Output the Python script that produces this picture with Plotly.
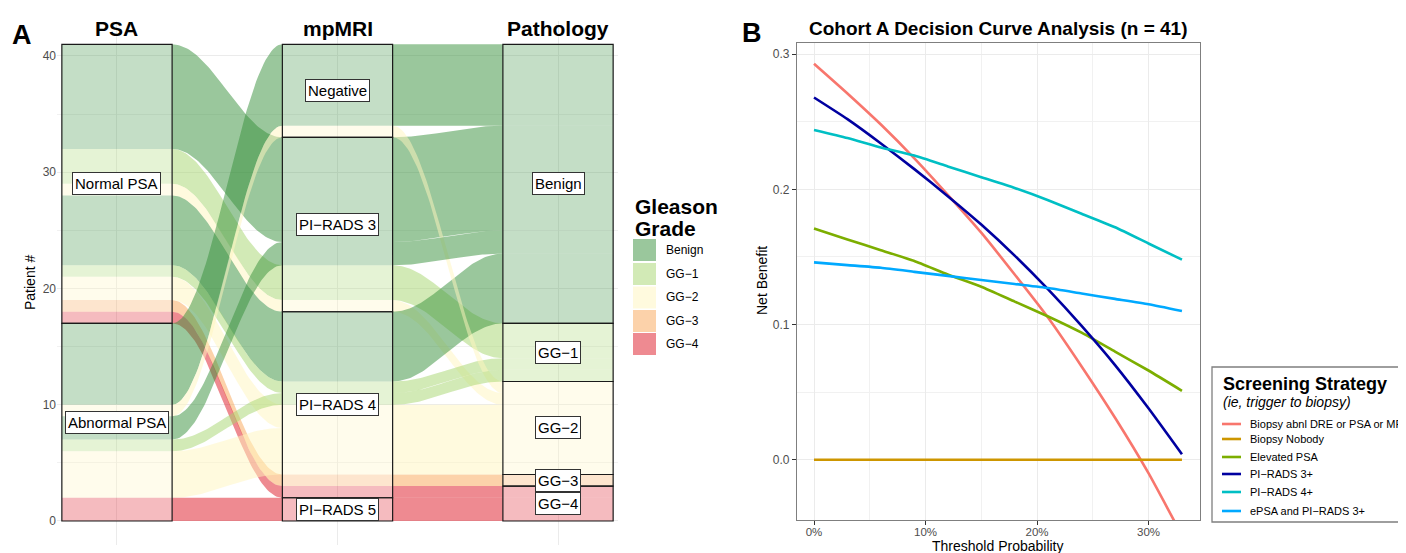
import numpy as np
import plotly.graph_objects as go

# The page body has an 8px default margin, so the figure is sized to fill the rest of the window.
OFF = 8
W, H = 1406 - OFF, 553 - OFF
FONT = "Liberation Sans, Arial, Helvetica, sans-serif"

# ---------------- Panel A data (alluvial diagram) ----------------
axis_names = ["PSA", "mpMRI", "Pathology"]
psa_levels = ["Normal PSA", "Abnormal PSA"]
mri_levels = ["Negative", "PI−RADS 3", "PI−RADS 4", "PI−RADS 5"]
path_levels = ["Benign", "GG−1", "GG−2", "GG−3", "GG−4"]

flow_psa = ["Normal PSA"] * 8 + ["Abnormal PSA"] * 6
flow_mri = ["PI−RADS 3", "PI−RADS 3", "PI−RADS 3", "PI−RADS 4", "PI−RADS 4",
            "PI−RADS 4", "PI−RADS 4", "PI−RADS 4", "Negative", "Negative",
            "PI−RADS 3", "PI−RADS 4", "PI−RADS 4", "PI−RADS 5"]
flow_path = ["Benign", "GG−1", "GG−2", "Benign", "GG−1", "GG−2", "GG−3", "GG−4",
             "Benign", "GG−2", "Benign", "GG−1", "GG−2", "GG−4"]
flow_n = [9, 3, 1, 6, 1, 2, 1, 1, 7, 1, 2, 1, 4, 2]

legend_a_title = ["Gleason", "Grade"]

# ---------------- Panel B data (decision curves) ----------------
threshold = [0.00, 0.03, 0.06, 0.09, 0.12, 0.15, 0.18, 0.21, 0.24, 0.27, 0.30, 0.33]
nb_all = [0.293, 0.271, 0.248, 0.223, 0.196, 0.168, 0.137, 0.105, 0.069, 0.031, -0.010, -0.056]
nb_none = [0.0] * 12
nb_psa = [0.171, 0.163, 0.155, 0.147, 0.137, 0.128, 0.117, 0.106, 0.094, 0.080, 0.066, 0.051]
nb_pr3 = [0.268, 0.252, 0.234, 0.215, 0.195, 0.174, 0.151, 0.126, 0.099, 0.070, 0.038, 0.004]
nb_pr4 = [0.244, 0.238, 0.231, 0.225, 0.217, 0.209, 0.201, 0.192, 0.182, 0.172, 0.160, 0.148]
nb_epsa_pr3 = [0.146, 0.144, 0.142, 0.139, 0.136, 0.133, 0.130, 0.127, 0.123, 0.119, 0.115, 0.110]
strategy_names = ["Biopsy abnl DRE or PSA or MRI", "Biopsy Nobody", "Elevated PSA",
                  "PI−RADS 3+", "PI−RADS 4+", "ePSA and PI−RADS 3+"]
title_b = "Cohort A Decision Curve Analysis (n = 41)"

# ---------------- styles ----------------
grade_rgb = {"Benign": (53, 143, 57), "GG−1": (165, 213, 109), "GG−2": (255, 245, 189),
             "GG−3": (249, 165, 85), "GG−4": (221, 21, 35)}
strategy_colors = ["#F8766D", "#CD9600", "#7CAE00", "#0000A0", "#00BFC4", "#00A9FF"]


def rgba(c, a):
    return "rgba(%d,%d,%d,%.3f)" % (c[0], c[1], c[2], a)


def blend(c, a):
    return "rgb(%d,%d,%d)" % tuple(round(255 - (255 - v) * a) for v in c)


def pxx(x):
    return (x - OFF) / W


def pxy(y):
    return 1 - (y - OFF) / H


def txt(x, y, text, size, xanchor="center", yanchor="middle", angle=0, color="black"):
    return dict(x=pxx(x), y=pxy(y), xref="paper", yref="paper", text=text, showarrow=False,
                xanchor=xanchor, yanchor=yanchor, textangle=angle,
                font=dict(size=size, color=color, family=FONT))


fig = go.Figure()

# ---------------- Panel A: compute lode positions ----------------
N = len(flow_n)
total = sum(flow_n)
idx_psa = [psa_levels.index(v) for v in flow_psa]
idx_mri = [mri_levels.index(v) for v in flow_mri]
idx_path = [path_levels.index(v) for v in flow_path]
sort_keys = [
    lambda i: (idx_psa[i], idx_mri[i], idx_path[i]),
    lambda i: (idx_mri[i], idx_path[i], idx_psa[i]),
    lambda i: (idx_path[i], idx_mri[i], idx_psa[i]),
]
tops = np.zeros((3, N))
bots = np.zeros((3, N))
for a in range(3):
    y = total
    for i in sorted(range(N), key=sort_keys[a]):
        tops[a, i] = y
        bots[a, i] = y - flow_n[i]
        y -= flow_n[i]

bw = 0.5  # stratum width in axis units
ax_x = [1, 2, 3]

# flows
t = np.linspace(0, 1, 60)
s = (1 - np.cos(np.pi * t)) / 2
for a in range(2):
    x0 = ax_x[a] + bw / 2
    x1 = ax_x[a + 1] - bw / 2
    xs = x0 + (x1 - x0) * t
    for i in range(N):
        top = tops[a, i] + (tops[a + 1, i] - tops[a, i]) * s
        bot = bots[a, i] + (bots[a + 1, i] - bots[a, i]) * s
        fig.add_trace(go.Scatter(
            x=np.concatenate([xs, xs[::-1]]), y=np.concatenate([top, bot[::-1]]),
            mode="lines", line=dict(width=0), fill="toself",
            fillcolor=rgba(grade_rgb[flow_path[i]], 0.5),
            hoverinfo="skip", showlegend=False, xaxis="x", yaxis="y"))

# lodes inside strata
for a in range(3):
    xl, xr = ax_x[a] - bw / 2, ax_x[a] + bw / 2
    for i in range(N):
        fig.add_trace(go.Scatter(
            x=[xl, xr, xr, xl, xl], y=[bots[a, i], bots[a, i], tops[a, i], tops[a, i], bots[a, i]],
            mode="lines", line=dict(width=0), fill="toself",
            fillcolor=rgba(grade_rgb[flow_path[i]], 0.29),
            hoverinfo="skip", showlegend=False, xaxis="x", yaxis="y"))

shapes = []
annotations = []

# strata borders + labels
axis_levels = [(psa_levels, flow_psa), (mri_levels, flow_mri), (path_levels, flow_path)]
for a, (levels, col) in enumerate(axis_levels):
    for lev in levels:
        members = [i for i in range(N) if col[i] == lev]
        if not members:
            continue
        top = max(tops[a, i] for i in members)
        bot = min(bots[a, i] for i in members)
        shapes.append(dict(type="rect", xref="x", yref="y",
                           x0=ax_x[a] - bw / 2, x1=ax_x[a] + bw / 2, y0=bot, y1=top,
                           line=dict(color="#1a1a1a", width=1.2), fillcolor="rgba(0,0,0,0)"))
        annotations.append(dict(x=ax_x[a], y=(top + bot) / 2, xref="x", yref="y", text=lev,
                                showarrow=False, xanchor="center", yanchor="middle",
                                bgcolor="white", bordercolor="#333333",
                                borderwidth=1, borderpad=2,
                                font=dict(size=15, color="black", family=FONT)))

# axis titles above columns
for a, name in enumerate(axis_names):
    annotations.append(dict(x=ax_x[a], y=pxy(29), xref="x", yref="paper", text="<b>%s</b>" % name,
                            showarrow=False, xanchor="center", yanchor="middle",
                            font=dict(size=21, color="black", family=FONT)))

# Panel A legend
annotations.append(txt(633, 206, "<b>%s</b>" % legend_a_title[0], 21, xanchor="left"))
annotations.append(txt(633, 228, "<b>%s</b>" % legend_a_title[1], 21, xanchor="left"))
key_tops = [239, 263, 286.5, 310, 333]
for k, g in enumerate(path_levels):
    shapes.append(dict(type="rect", xref="paper", yref="paper", x0=pxx(633), x1=pxx(656),
                       y0=pxy(key_tops[k] + 22), y1=pxy(key_tops[k]),
                       line=dict(width=0), fillcolor=blend(grade_rgb[g], 0.5)))
    annotations.append(txt(664, key_tops[k] + 11, g, 12, xanchor="left"))

# Panel A y title & letter
annotations.append(txt(30, 283, "Patient #", 14, angle=-90))
annotations.append(txt(22, 35, "<b>A</b>", 27))

# ---------------- Panel B traces ----------------
nb_series = [nb_all, nb_none, nb_psa, nb_pr3, nb_pr4, nb_epsa_pr3]
for name, vals, colr in zip(strategy_names, nb_series, strategy_colors):
    fig.add_trace(go.Scatter(x=threshold, y=vals, mode="lines", name=name,
                             line=dict(color=colr, width=2.6, shape="spline", smoothing=0.5),
                             showlegend=False, xaxis="x2", yaxis="y2", hoverinfo="skip"))

annotations.append(txt(998, 28, "<b>%s</b>" % title_b, 19))
annotations.append(txt(752, 33, "<b>B</b>", 27))
annotations.append(txt(762, 281, "Net Benefit", 14, angle=-90))
annotations.append(txt(998, 546, "Threshold Probability", 14))

# Panel B legend (manual)
shapes.append(dict(type="rect", xref="paper", yref="paper", x0=pxx(1212), x1=pxx(1440),
                   y0=pxy(522), y1=pxy(367), line=dict(color="#7F7F7F", width=1.3),
                   fillcolor="white", layer="below"))
annotations.append(txt(1221, 384, "<b>Screening Strategy</b>", 18, xanchor="left"))
annotations.append(txt(1221, 402, "<i>(ie, trigger to biopsy)</i>", 14, xanchor="left"))
item_y = [424, 439, 457, 474, 492, 511]
for k, (name, colr) in enumerate(zip(strategy_names, strategy_colors)):
    shapes.append(dict(type="line", xref="paper", yref="paper", x0=pxx(1222), x1=pxx(1241),
                       y0=pxy(item_y[k]), y1=pxy(item_y[k]), line=dict(color=colr, width=2.6)))
    annotations.append(txt(1248, item_y[k], name, 11, xanchor="left"))

# ---------------- layout ----------------
grid = "#EBEBEB"
fig.update_layout(
    width=W, height=H, margin=dict(l=0, r=0, t=0, b=0),
    paper_bgcolor="white", plot_bgcolor="white", showlegend=False,
    font=dict(family=FONT, color="black"),
    xaxis=dict(domain=[pxx(57), pxx(618)], range=[0.728, 3.272], tickvals=[1, 2, 3],
               showticklabels=False, showgrid=True, gridcolor=grid, gridwidth=1.2,
               zeroline=False, showline=False, ticks="", fixedrange=True),
    yaxis=dict(domain=[pxy(545), pxy(20.5)], range=[-2.065, 43.05], tickvals=[0, 10, 20, 30, 40],
               showgrid=True, gridcolor=grid, gridwidth=1.2, zeroline=False, showline=False,
               ticks="", tickfont=dict(size=12, color="#4D4D4D"),
               minor=dict(tickvals=[5, 15, 25, 35], showgrid=True, gridcolor="#F1F1F1", gridwidth=0.7)),
    xaxis2=dict(domain=[pxx(797), pxx(1200)], range=[-0.01525, 0.34619], anchor="y2",
                tickvals=[0, 0.1, 0.2, 0.3], ticktext=["0%", "10%", "20%", "30%"],
                showgrid=True, gridcolor=grid, gridwidth=1.2, zeroline=False,
                showline=True, mirror=True, linecolor="#7F7F7F", linewidth=1.3,
                ticks="outside", ticklen=4, tickcolor="#333333", tickwidth=1,
                ticklabelstandoff=-3,
                tickfont=dict(size=11.5, color="#4D4D4D"),
                minor=dict(tickvals=[0.05, 0.15, 0.25], showgrid=True, gridcolor="#F1F1F1", gridwidth=0.7)),
    yaxis2=dict(domain=[pxy(520), pxy(43)], range=[-0.04462, 0.30833], anchor="x2",
                tickvals=[0, 0.1, 0.2, 0.3], ticktext=["0.0", "0.1", "0.2", "0.3"],
                showgrid=True, gridcolor=grid, gridwidth=1.2, zeroline=False,
                showline=True, mirror=True, linecolor="#7F7F7F", linewidth=1.3,
                ticks="outside", ticklen=4, tickcolor="#333333", tickwidth=1,
                tickfont=dict(size=12, color="#4D4D4D"),
                minor=dict(tickvals=[0.05, 0.15, 0.25], showgrid=True, gridcolor="#F1F1F1", gridwidth=0.7)),
    shapes=shapes,
    annotations=annotations,
)

fig.write_html("out.html")
